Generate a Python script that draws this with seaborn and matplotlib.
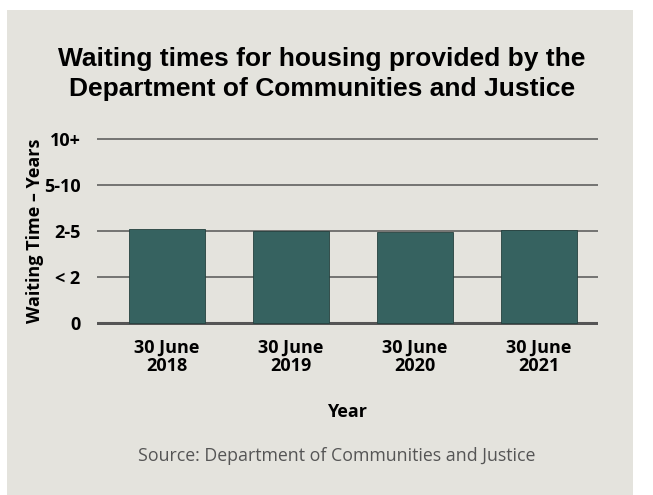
import matplotlib
matplotlib.use("Agg")
import matplotlib.pyplot as plt
from matplotlib.patches import Rectangle
import pandas as pd
import seaborn as sns

# ── Data ─────────────────────────────────────────────────────────────────────
YEARS      = ["30 June\n2018", "30 June\n2019", "30 June\n2020", "30 June\n2021"]
WAIT_LEVEL = [2.05, 2.01, 1.97, 2.02]          # 0 / <2 / 2-5 / 5-10 / 10+ scale
Y_TICKS    = [0, 1, 2, 3, 4]
Y_LABELS   = ["0", "< 2", "2-5", "5-10", "10+"]

PANEL  = "#e4e3dd"
BAR    = "#366260"
GRID   = "#555555"

sns.set_theme(style="white")
plt.rcParams["font.family"] = ["Open Sans", "DejaVu Sans"]
plt.rcParams["text.color"] = "black"
plt.rcParams["axes.labelcolor"] = "black"

df = pd.DataFrame({"Year": YEARS, "Wait": WAIT_LEVEL})

fig = plt.figure(figsize=(6.53, 4.95), dpi=100)
fig.patch.set_facecolor("white")
# grey card behind the chart
fig.patches.append(Rectangle((7 / 653, 0), 626 / 653, 1 - 10 / 495,
                             transform=fig.transFigure, facecolor=PANEL,
                             edgecolor="none", zorder=-10))

ax = fig.add_axes([97 / 653, 1 - 325 / 495, 501 / 653, 188 / 495])
ax.set_facecolor(PANEL)

sns.barplot(data=df, x="Year", y="Wait", color=BAR, saturation=1,
            width=0.62, edgecolor="#24403e", linewidth=0.6, ax=ax, zorder=3)

ax.set_xlim(-0.565, 3.476)
ax.set_ylim(-0.05, 4.05)
ax.set_yticks(Y_TICKS)
ax.set_yticklabels(Y_LABELS)
for y in Y_TICKS[1:]:
    ax.axhline(y, color=GRID, linewidth=1.1, zorder=1)
ax.axhline(0, color=GRID, linewidth=2.2, zorder=2)

for s in ax.spines.values():
    s.set_visible(False)
ax.tick_params(axis="both", length=0, labelsize=13, colors="black")
ax.tick_params(axis="y", pad=12)
ax.tick_params(axis="x", pad=10)
for lbl in ax.get_xticklabels() + ax.get_yticklabels():
    lbl.set_fontweight("bold")
for lbl in ax.get_xticklabels():
    lbl.set_linespacing(1.0)

ax.set_xlabel("Year", fontsize=13, fontweight="bold", labelpad=20)
ax.set_ylabel("Waiting Time – Years", fontsize=13, fontweight="bold", labelpad=0)

fig.text(322 / 653, 1 - 74 / 495,
         "Waiting times for housing provided by the\nDepartment of Communities and Justice",
         ha="center", va="center", fontsize=19, fontweight="bold", color="black",
         family=["Liberation Sans", "DejaVu Sans"], linespacing=1.35)
fig.text(337 / 653, 1 - 456 / 495, "Source: Department of Communities and Justice",
         ha="center", va="center", fontsize=12.8, color="#555555")

fig.savefig("out.png", dpi=100, facecolor=fig.get_facecolor())
